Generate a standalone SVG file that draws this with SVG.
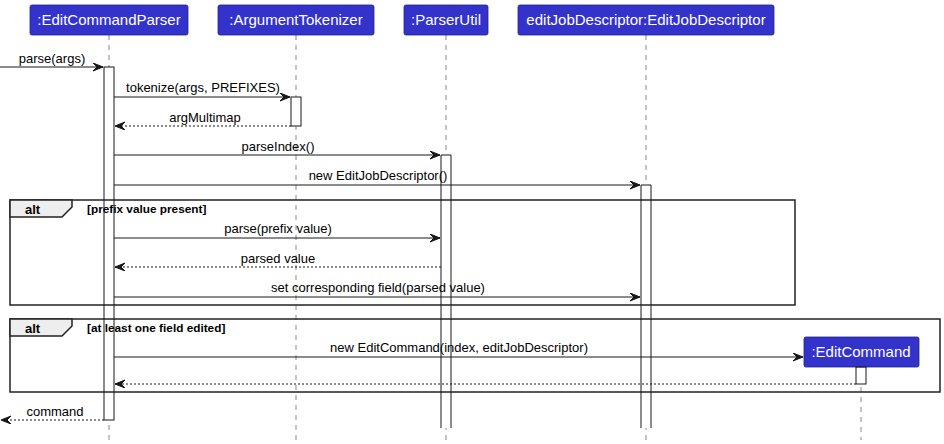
<svg xmlns="http://www.w3.org/2000/svg" width="944" height="444" viewBox="0 0 944 444">
<style>
.pbox{fill:#3333CC;stroke:#22228A;stroke-width:0.8}
.ptxt{font-family:"Liberation Sans",Arial,sans-serif;font-size:15px;fill:#FFFFFF;text-anchor:middle}
.life{stroke:#888888;stroke-width:1;stroke-dasharray:5,5;fill:none}
.actbg{fill:#FFFFFF;stroke:none}
.act{fill:none;stroke:#181818;stroke-width:1}
.msg{stroke:#181818;stroke-width:1;fill:none}
.ret{stroke:#181818;stroke-width:1;fill:none;stroke-dasharray:2,2}
.mtxt{font-family:"Liberation Sans",Arial,sans-serif;font-size:13px;fill:#000000;text-anchor:middle}
.frame{fill:none;stroke:#222222;stroke-width:1.5}
.tab{fill:#EEEEEE;stroke:#222222;stroke-width:1.5}
.alt{font-family:"Liberation Sans",Arial,sans-serif;font-size:13px;font-weight:bold;fill:#000000}
.guard{font-family:"Liberation Sans",Arial,sans-serif;font-size:11.8px;font-weight:bold;fill:#000000}
</style>
<defs>
<marker id="arr" markerUnits="userSpaceOnUse" markerWidth="12" markerHeight="10" refX="10" refY="4" orient="auto">
<path d="M0,0 L10,4 L0,8 L4,4 Z" fill="#181818" stroke="#181818" stroke-width="1"/>
</marker>
</defs>
<rect width="944" height="444" fill="#FFFFFF"/>

<g id="lifelines">
<line class="life" x1="109" y1="35" x2="109" y2="440"/>
<line class="life" x1="296" y1="35" x2="296" y2="440"/>
<line class="life" x1="446" y1="35" x2="446" y2="440"/>
<line class="life" x1="646" y1="35" x2="646" y2="440"/>
<line class="life" x1="861" y1="367" x2="861" y2="440"/>
</g>

<g id="activation-fills">
<rect class="actbg" x="104" y="67" width="10" height="353"/>
<rect class="actbg" x="291" y="97" width="10" height="29"/>
<rect class="actbg" x="441" y="155" width="10" height="273"/>
<rect class="actbg" x="641" y="185" width="10" height="243"/>
<rect class="actbg" x="856" y="367" width="10" height="17"/>
</g>

<g id="frames">
<rect class="frame" x="10" y="200" width="785" height="105"/>
<path class="tab" d="M10,200 H72 V207 L62,217 H10 Z"/>
<text class="alt" x="25" y="214">alt</text>
<text class="guard" x="87" y="213">[prefix value present]</text>
<rect class="frame" x="10" y="319" width="930" height="73"/>
<path class="tab" d="M10,319 H72 V326 L62,336 H10 Z"/>
<text class="alt" x="25" y="333">alt</text>
<text class="guard" x="87" y="332">[at least one field edited]</text>
</g>

<g id="EditCommandParser">
<rect class="pbox" x="30" y="5" width="158" height="30" rx="2"/>
<text class="ptxt" x="109" y="25">:EditCommandParser</text>
<rect class="act" x="104" y="67" width="10" height="353"/>
</g>
<g id="ArgumentTokenizer">
<rect class="pbox" x="218" y="5" width="156" height="30" rx="2"/>
<text class="ptxt" x="296" y="25">:ArgumentTokenizer</text>
<rect class="act" x="291" y="97" width="10" height="29"/>
</g>
<g id="ParserUtil">
<rect class="pbox" x="404" y="5" width="84" height="30" rx="2"/>
<text class="ptxt" x="446" y="25">:ParserUtil</text>
<path class="act" d="M441,428 V155 H451 V428"/>
</g>
<g id="EditJobDescriptor">
<rect class="pbox" x="518" y="5" width="256" height="30" rx="2"/>
<text class="ptxt" x="646" y="25">editJobDescriptor:EditJobDescriptor</text>
<path class="act" d="M641,428 V185 H651 V428"/>
</g>
<g id="EditCommand">
<rect class="pbox" x="804" y="337" width="115" height="30" rx="2"/>
<text class="ptxt" x="861" y="357">:EditCommand</text>
<rect class="act" x="856" y="367" width="10" height="17"/>
</g>

<g id="connectors">
<line class="msg" x1="0" y1="67" x2="103" y2="67" marker-end="url(#arr)"/>
<text class="mtxt" x="52" y="63">parse(args)</text>
<line class="msg" x1="114" y1="97" x2="290" y2="97" marker-end="url(#arr)"/>
<text class="mtxt" x="203" y="92">tokenize(args, PREFIXES)</text>
<line class="ret" x1="291" y1="126" x2="115" y2="126" marker-end="url(#arr)"/>
<text class="mtxt" x="205" y="122">argMultimap</text>
<line class="msg" x1="114" y1="155" x2="440" y2="155" marker-end="url(#arr)"/>
<text class="mtxt" x="278" y="151">parseIndex()</text>
<line class="msg" x1="114" y1="185" x2="640" y2="185" marker-end="url(#arr)"/>
<text class="mtxt" x="378" y="180">new EditJobDescriptor()</text>
<line class="msg" x1="114" y1="238" x2="440" y2="238" marker-end="url(#arr)"/>
<text class="mtxt" x="278" y="233">parse(prefix value)</text>
<line class="ret" x1="441" y1="267" x2="115" y2="267" marker-end="url(#arr)"/>
<text class="mtxt" x="278" y="263">parsed value</text>
<line class="msg" x1="114" y1="297" x2="640" y2="297" marker-end="url(#arr)"/>
<text class="mtxt" x="378" y="292">set corresponding field(parsed value)</text>
<line class="msg" x1="114" y1="357" x2="803" y2="357" marker-end="url(#arr)"/>
<text class="mtxt" x="459" y="352">new EditCommand(index, editJobDescriptor)</text>
<line class="ret" x1="856" y1="384" x2="115" y2="384" marker-end="url(#arr)"/>
<line class="ret" x1="104" y1="420" x2="1" y2="420" marker-end="url(#arr)"/>
<text class="mtxt" x="55" y="416">command</text>
</g>
</svg>
